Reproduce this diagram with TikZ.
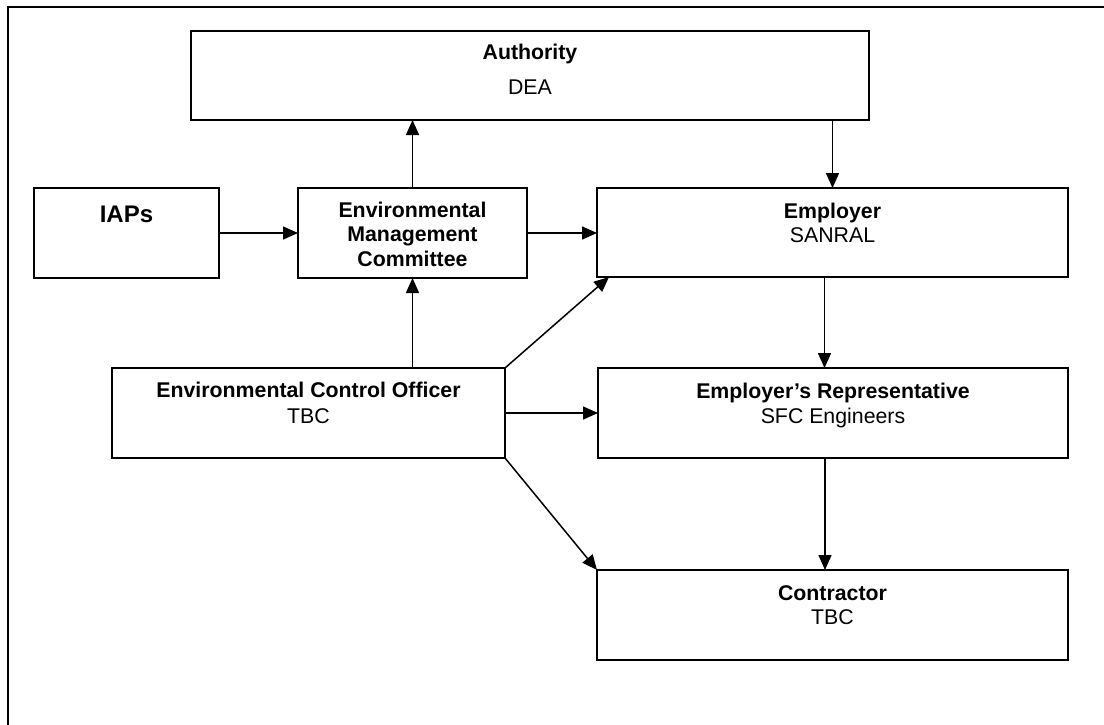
\documentclass[tikz,border=0pt]{standalone}
\usepackage{fontspec}
\setmainfont{Liberation Sans}
\usetikzlibrary{arrows.meta}
\begin{document}
\begin{tikzpicture}[x=1pt,y=-1pt,
  box/.style={draw, line width=1.6pt, inner sep=0pt, outer sep=0pt},
  arr/.style={line width=1.5pt, -{Triangle[length=15pt,width=13pt]}},
  ttl/.style={anchor=base, inner sep=0pt, font=\fontsize{21.3}{24}\selectfont\bfseries},
  sub/.style={anchor=base, inner sep=0pt, font=\fontsize{21.3}{24}\selectfont},
  frame/.style={line width=2.2pt}]
\useasboundingbox (0,0) rectangle (1104,724);
\draw[frame] (8.3,730) -- (8.3,6.7) -- (1110,6.7);

\node[box, minimum width=678pt, minimum height=89pt] (auth) at (530,75.5) {};
\node[box, minimum width=185pt, minimum height=90pt] (iaps) at (126.5,233) {};
\node[box, minimum width=229pt, minimum height=90pt] (emc) at (412.5,233) {};
\node[box, minimum width=471pt, minimum height=89pt] (empl) at (832.5,232.5) {};
\node[box, minimum width=393pt, minimum height=90pt] (eco) at (308.5,413) {};
\node[box, minimum width=470pt, minimum height=90pt] (er) at (833,413) {};
\node[box, minimum width=471pt, minimum height=90pt] (con) at (832.5,615) {};

\node[ttl] (auth-t) at (530,59) {Authority};
\node[sub] (auth-s) at (530,94) {DEA};
\node[ttl, font=\fontsize{24}{28}\selectfont\bfseries] (iaps-t) at (126.5,222) {IAPs};
\node[ttl] (emc-t1) at (412.5,217.5) {Environmental};
\node[ttl] (emc-t2) at (412.5,241.7) {Management};
\node[ttl] (emc-t3) at (412.5,266) {Committee};
\node[ttl] (empl-t) at (832.5,218) {Employer};
\node[sub] (empl-s) at (832.5,242.5) {SANRAL};
\node[ttl] (eco-t) at (308.5,397.3) {Environmental Control Officer};
\node[sub] (eco-s) at (308.5,423) {TBC};
\node[ttl] (er-t) at (833,398) {Employer’s Representative};
\node[sub] (er-s) at (833,423) {SFC Engineers};
\node[ttl] (con-t) at (832.5,600) {Contractor};
\node[sub] (con-s) at (832.5,624.3) {TBC};

\draw[arr] (iaps) -- (emc);
\draw[arr] (emc) -- (empl.west |- emc);
\draw[arr] (emc.north) -- (emc.north |- auth.south);
\draw[arr] (eco.north -| emc) -- (emc.south);
\draw[arr] (auth.south -| empl) -- (empl.north);
\draw[arr] (eco.north east) -- ([xshift=12pt]empl.south west);
\draw[arr] (eco) -- (er);
\draw[arr] ([xshift=-8pt]empl.south) -- ([xshift=-8pt]empl.south |- er.north);
\draw[arr] ([xshift=-8pt]er.south) -- ([xshift=-8pt]er.south |- con.north);
\draw[arr] (eco.south east) -- (con.north west);
\end{tikzpicture}
\end{document}
